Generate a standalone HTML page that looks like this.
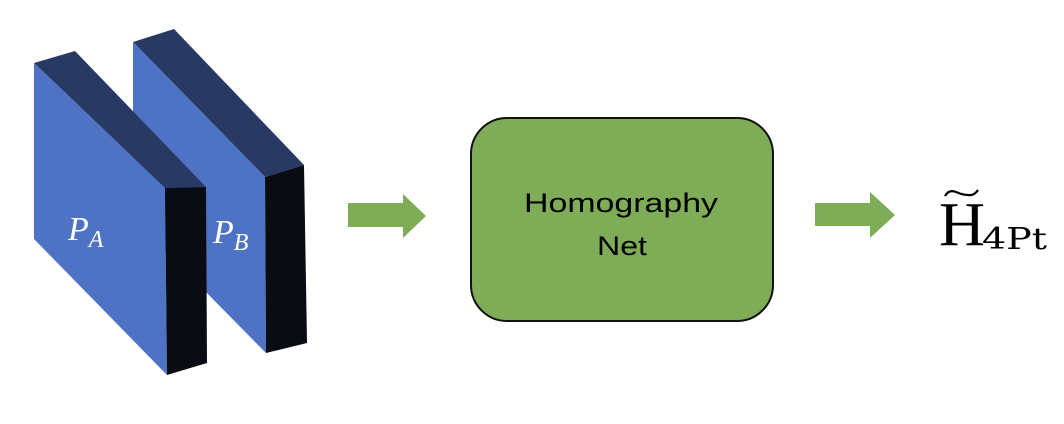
<!DOCTYPE html>
<html><head><meta charset="utf-8"><style>
html,body{margin:0;padding:0;background:#fff;}
svg{display:block;}
</style></head><body>
<svg width="1064" height="424" viewBox="0 0 1064 424" xmlns="http://www.w3.org/2000/svg">
<!-- Block B -->
<polygon points="133,42 174,29 304,165 265,177" fill="#283a64"/>
<polygon points="133,42 265,177 266,353 133,218" fill="#4f73c4"/>
<polygon points="265,177 304,165 307,343 266,353" fill="#090c12"/>
<!-- Block A -->
<polygon points="34,63 75,51 206,187 165,188" fill="#283a64"/>
<polygon points="34,63 165,188 167,375 34,239" fill="#4f73c4"/>
<polygon points="165,188 206,187 207,363 167,375" fill="#090c12"/>
<text x="68" y="240" font-family="Liberation Serif, serif" font-style="italic" font-size="34" fill="#fff">P<tspan font-size="24" dy="7">A</tspan></text>
<text x="213" y="243" font-family="Liberation Serif, serif" font-style="italic" font-size="34" fill="#fff">P<tspan font-size="24" dy="7">B</tspan></text>
<!-- Arrow 1 -->
<polygon points="348,203 403,203 403,194 426,216 403,238 403,227 348,227" fill="#7eac57"/>
<!-- Box -->
<rect x="471" y="118" width="302" height="203" rx="36" ry="36" fill="#7eac57" stroke="#111" stroke-width="2"/>
<text x="524" y="212" textLength="194" lengthAdjust="spacingAndGlyphs" font-family="Liberation Sans, sans-serif" font-size="27" fill="#000">Homography</text>
<text x="597" y="255" textLength="50" lengthAdjust="spacingAndGlyphs" font-family="Liberation Sans, sans-serif" font-size="27" fill="#000">Net</text>
<!-- Arrow 2 -->
<polygon points="815,203 870,203 870,192 895,215 870,238 870,226 815,226" fill="#7eac57"/>
<!-- Output -->
<text x="939" y="245" textLength="46" lengthAdjust="spacingAndGlyphs" font-family="Liberation Serif, serif" font-size="62" fill="#000">H</text>
<path d="M945 196 q4 -7 11 -4 t12 3 q6 1 10 -5" fill="none" stroke="#000" stroke-width="2.2"/>
<text x="982" y="249" textLength="65" lengthAdjust="spacingAndGlyphs" font-family="DejaVu Serif, serif" font-size="30" fill="#000">4Pt</text>
</svg>
</body></html>
